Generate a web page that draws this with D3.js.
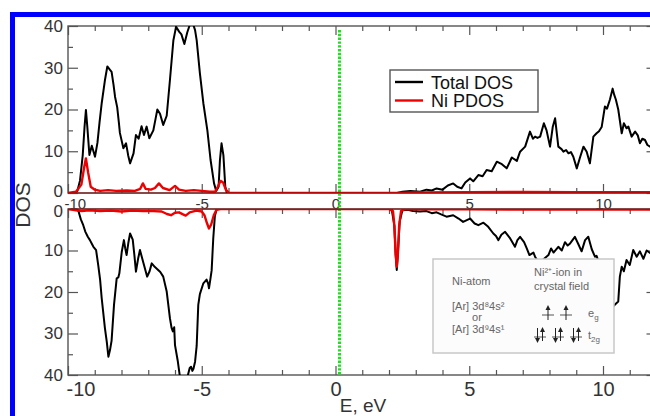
<!DOCTYPE html>
<html><head><meta charset="utf-8">
<script src="https://cdn.jsdelivr.net/npm/d3@7"></script>
<style>body{margin:0;background:#fff}svg{display:block}text{font-family:"Liberation Sans",Arial,sans-serif}</style>
</head><body>
<svg id="c" width="650" height="416"></svg>
<script>
// ---------------- data ----------------
const xTicksMajor = [-10, -5, 0, 5, 10];
const yTicksMajor = [0, 10, 20, 30, 40];
const fermiE = 0.15;

const upTotal = [[-10,0],[-9.75,0],[-9.65,0.5],[-9.55,3],[-9.45,9],[-9.38,16],[-9.33,19.9],[-9.28,16],[-9.2,9.1],[-9.11,11.3],[-8.99,8.7],[-8.9,12],[-8.82,17],[-8.74,21.5],[-8.62,27],[-8.53,30.3],[-8.43,29.5],[-8.37,29],[-8.3,26],[-8.24,23],[-8.16,20.5],[-8.1,17],[-8.06,14.4],[-7.93,10.7],[-7.83,11.9],[-7.75,9],[-7.68,7.1],[-7.55,9.5],[-7.46,13.9],[-7.36,13],[-7.25,16],[-7.16,13.9],[-7.06,15.9],[-6.96,13.1],[-6.81,15],[-6.72,18],[-6.66,20],[-6.56,19],[-6.44,16.3],[-6.31,18.5],[-6.19,27],[-6.06,36.6],[-5.96,39.8],[-5.84,38.6],[-5.76,38],[-5.65,35.7],[-5.54,38.5],[-5.41,41],[-5.31,40.2],[-5.25,39],[-5.19,36.6],[-5.07,28.7],[-4.94,21.5],[-4.79,15],[-4.67,7.9],[-4.54,2.3],[-4.46,0.5],[-4.37,1.5],[-4.32,7.9],[-4.26,11.9],[-4.19,9],[-4.12,1.5],[-4.06,0],[2.3,0],[2.5,0.3],[2.8,0.5],[3.16,0.3],[3.4,0.8],[3.6,0.6],[3.78,1.1],[4.0,0.8],[4.2,1.8],[4.4,2.3],[4.55,1.5],[4.71,1.1],[4.85,2.5],[5.03,3.5],[5.15,2.8],[5.34,4.3],[5.5,4.0],[5.65,5.5],[5.84,5.2],[6.03,7.5],[6.22,6.9],[6.40,5.9],[6.59,8.5],[6.78,7.7],[6.90,9.9],[7.09,11.1],[7.27,14.7],[7.38,13],[7.46,13.5],[7.55,13.2],[7.65,13.5],[7.79,16.7],[7.89,15],[8.02,11.1],[8.12,15.8],[8.21,17.9],[8.33,11.1],[8.45,10.5],[8.52,9.9],[8.62,10.3],[8.71,9.5],[8.8,9.8],[8.89,8.7],[9.02,5.9],[9.14,8.5],[9.27,11.1],[9.39,9.9],[9.51,7.1],[9.64,13.5],[9.76,14.3],[9.85,14.8],[9.95,15.8],[10.07,20.7],[10.15,20.2],[10.26,22.4],[10.36,25],[10.42,23.5],[10.48,22.4],[10.57,20],[10.70,14.3],[10.78,16.7],[10.88,15.5],[10.95,15.9],[11.07,13.5],[11.2,14.7],[11.3,13.8],[11.38,11.9],[11.47,13],[11.57,12.7],[11.66,11.5],[11.76,11.1],[11.9,12],[12,11.5]];

const upNi = [[-10,0],[-9.7,0.3],[-9.5,2],[-9.4,6],[-9.33,8.3],[-9.25,5],[-9.15,1.5],[-9.0,0.8],[-8.8,0.5],[-8.5,0.7],[-8.2,0.5],[-7.8,0.6],[-7.5,0.5],[-7.3,1],[-7.2,2.3],[-7.1,1],[-6.9,0.8],[-6.75,1.2],[-6.6,2.3],[-6.45,1.2],[-6.2,0.7],[-6.0,1.7],[-5.85,0.8],[-5.6,0.5],[-5.3,0.7],[-5.0,0.5],[-4.7,0.3],[-4.5,0.3],[-4.4,1.5],[-4.3,2.9],[-4.2,2.5],[-4.1,0.8],[-4.0,0.1],[-3.8,0],[2.3,0],[3,0.15],[5,0.2],[7,0.25],[9,0.2],[12,0.2]];

const dnTotal = [[-10,0],[-9.7,0],[-9.61,0.5],[-9.52,2.5],[-9.43,3.9],[-9.35,5.5],[-9.26,6.7],[-9.18,7.5],[-9.1,8.5],[-9.05,9.1],[-8.95,9.9],[-8.87,13.5],[-8.8,17],[-8.74,21.5],[-8.62,28.7],[-8.55,32],[-8.49,35.6],[-8.43,34],[-8.37,31.7],[-8.28,23.1],[-8.18,16.7],[-8.12,16.5],[-8.08,15.5],[-7.99,10.3],[-7.91,7.5],[-7.86,9.5],[-7.81,11.1],[-7.74,8],[-7.68,5.9],[-7.58,7.4],[-7.52,11],[-7.46,15.1],[-7.38,12],[-7.31,9.9],[-7.18,13],[-7.04,16.3],[-6.95,15],[-6.87,13.1],[-6.75,14],[-6.66,14.5],[-6.55,15.2],[-6.44,16.3],[-6.31,19.9],[-6.19,26.3],[-6.13,28.6],[-6.08,29.5],[-6.03,28.5],[-6.0,32.8],[-5.9,36.5],[-5.81,40.7],[-5.7,43],[-5.6,42],[-5.5,39.6],[-5.45,38.3],[-5.4,38],[-5.35,39],[-5.31,38.5],[-5.25,36.8],[-5.19,33],[-5.13,23.1],[-5.07,20.5],[-4.94,17.9],[-4.82,17],[-4.76,18],[-4.73,19.1],[-4.68,17],[-4.63,14.8],[-4.57,7.1],[-4.51,1.7],[-4.44,0],[2.1,0],[2.2,4],[2.25,11],[2.29,14.7],[2.33,11],[2.4,3],[2.5,0.3],[2.7,0.2],[2.9,0.5],[3.16,0.6],[3.4,0.5],[3.6,1.0],[3.78,0.8],[3.95,1.3],[4.15,1.85],[4.4,1.5],[4.6,2.3],[4.77,3.1],[5.03,2.3],[5.2,3.5],[5.34,3.9],[5.53,3.3],[5.71,4.3],[5.90,5.9],[6.0,6.5],[6.09,7.5],[6.2,6.2],[6.34,5.5],[6.53,7.1],[6.71,9.1],[6.8,7.5],[6.90,6.7],[7.05,8],[7.15,9.5],[7.25,11.1],[7.4,10.5],[7.46,11.5],[7.6,13],[7.8,12],[7.96,11.1],[8.06,9.5],[8.15,10.5],[8.33,9.1],[8.46,10],[8.58,8],[8.68,8.8],[8.77,8.3],[8.95,6.7],[9.08,8.5],[9.2,10.2],[9.33,7.5],[9.45,6.7],[9.58,9.7],[9.7,11.5],[9.76,11.3],[9.9,14],[10.1,19],[10.3,24],[10.45,23],[10.57,22.3],[10.63,16.3],[10.70,13.9],[10.78,15],[10.88,12.3],[11.0,13.5],[11.13,9.9],[11.26,11.5],[11.38,10.2],[11.51,12],[11.63,10],[11.76,10.6],[12,11]];

const dnNi = [[-10,0],[-9.7,0.3],[-9.5,0.5],[-9.2,0.3],[-8.8,0.5],[-8.4,0.4],[-8,0.6],[-7.6,0.4],[-7.2,0.5],[-6.8,0.5],[-6.5,0.6],[-6.3,1.2],[-6.15,1.5],[-6.0,0.9],[-5.85,0.8],[-5.7,1.3],[-5.6,1.6],[-5.45,0.8],[-5.2,0.4],[-5.0,0.6],[-4.9,1.5],[-4.8,3.5],[-4.73,4.7],[-4.65,3.8],[-4.55,1.5],[-4.45,0.2],[-4.3,0],[2.0,0],[2.15,0.5],[2.2,4],[2.25,11],[2.29,13.9],[2.33,11],[2.38,4],[2.45,0.5],[2.6,0],[5,0.1],[8,0.15],[12,0.1]];

const legendLabels = ["Total DOS", "Ni PDOS"];
const seriesColors = ["#000000", "#ee0000"];

// ---------------- layout ----------------
const svg = d3.select("#c");
const X0 = 68, X1 = 656.5;
const x = d3.scaleLinear().domain([-10, 12]).range([X0, X1]);
const yUp = d3.scaleLinear().domain([0, 40]).range([193, 26]);
const yDn = d3.scaleLinear().domain([0, 40]).range([209, 375]);
const axisColor = "#555";

svg.append("rect").attr("x", 12.5).attr("y", 14.5).attr("width", 700).attr("height", 500)
  .attr("fill", "none").attr("stroke", "#0000ff").attr("stroke-width", 5);

const defs = svg.append("defs");
defs.append("clipPath").attr("id", "cu").append("rect")
  .attr("x", X0).attr("y", yUp(40)).attr("width", X1 - X0).attr("height", yUp(0) - yUp(40));
defs.append("clipPath").attr("id", "cd").append("rect")
  .attr("x", X0).attr("y", yDn(0)).attr("width", X1 - X0).attr("height", yDn(40) - yDn(0));

const minorX = d3.range(-10, 13, 1).filter(d => d % 5 !== 0);
const minorY = [5, 15, 25, 35];

function styleAxis(g) {
  g.select(".domain").remove();
  g.selectAll("line").attr("stroke", axisColor).attr("stroke-width", 1.2);
  g.selectAll("text").attr("fill", "#333");
}

function panel(yS, bottom) {
  svg.append("g").attr("transform", `translate(${X0},0)`)
    .call(d3.axisLeft(yS).tickValues(yTicksMajor).tickSize(-10).tickPadding(5).tickFormat(d => String(d)))
    .call(styleAxis).call(g => g.selectAll("text").attr("font-size", 17))
    .call(g => g.selectAll(".tick").filter(d => d === 0).select("text").attr("y", bottom.zeroDy));
  svg.append("g").attr("transform", `translate(${X0},0)`)
    .call(d3.axisLeft(yS).tickValues(minorY).tickSize(-5).tickFormat(""))
    .call(styleAxis);
  svg.append("g").attr("transform", `translate(${X1},0)`)
    .call(d3.axisRight(yS).tickValues(yTicksMajor).tickSize(-10).tickFormat(""))
    .call(styleAxis);
  svg.append("g").attr("transform", `translate(${X1},0)`)
    .call(d3.axisRight(yS).tickValues(minorY).tickSize(-5).tickFormat(""))
    .call(styleAxis);
  const yt = Math.min(yS(0), yS(40)), yb = Math.max(yS(0), yS(40));
  svg.append("g").attr("transform", `translate(0,${yt})`)
    .call(d3.axisTop(x).tickValues(xTicksMajor).tickSize(-9).tickFormat(""))
    .call(styleAxis);
  svg.append("g").attr("transform", `translate(0,${yt})`)
    .call(d3.axisTop(x).tickValues(minorX).tickSize(-5).tickFormat(""))
    .call(styleAxis);
  svg.append("g").attr("transform", `translate(0,${yb})`)
    .call(d3.axisBottom(x).tickValues(xTicksMajor).tickSize(-9).tickPadding(bottom.pad).tickFormat(d => String(d)))
    .call(styleAxis)
    .call(g => g.selectAll("text").attr("font-size", bottom.fs))
    .call(g => g.selectAll(".tick").filter(d => d === -10).select("text")
      .attr("text-anchor", "start").attr("x", bottom.firstDx));
  svg.append("g").attr("transform", `translate(0,${yb})`)
    .call(d3.axisBottom(x).tickValues(minorX).tickSize(-5).tickFormat(""))
    .call(styleAxis);
  svg.append("rect").attr("x", X0).attr("y", yt).attr("width", X1 - X0).attr("height", yb - yt)
    .attr("fill", "none").attr("stroke", axisColor).attr("stroke-width", 1.4);
}

panel(yUp, {pad: 5, fs: 15, firstDx: -4, zeroDy: -1.8});
panel(yDn, {pad: 7, fs: 20, firstDx: -2, zeroDy: 1.8});

svg.append("line").attr("x1", x(fermiE)).attr("x2", x(fermiE)).attr("y1", 30).attr("y2", yDn(40))
  .attr("stroke", "#22dd22").attr("stroke-width", 3).attr("stroke-dasharray", "2.4 1.4");

const lineUp = d3.line().x(d => x(d[0])).y(d => yUp(d[1]));
const lineDn = d3.line().x(d => x(d[0])).y(d => yDn(d[1]));
const gu = svg.append("g").attr("clip-path", "url(#cu)");
const gd = svg.append("g").attr("clip-path", "url(#cd)");
gu.append("path").datum(upTotal).attr("d", lineUp).attr("fill", "none").attr("stroke", seriesColors[0]).attr("stroke-width", 2).attr("stroke-linejoin", "round");
gd.append("path").datum(dnTotal).attr("d", lineDn).attr("fill", "none").attr("stroke", seriesColors[0]).attr("stroke-width", 2).attr("stroke-linejoin", "round");
gu.append("path").datum(upNi).attr("d", lineUp).attr("fill", "none").attr("stroke", seriesColors[1]).attr("stroke-width", 2.4).attr("stroke-linejoin", "round");
gd.append("path").datum(dnNi).attr("d", lineDn).attr("fill", "none").attr("stroke", seriesColors[1]).attr("stroke-width", 2.4).attr("stroke-linejoin", "round");
[yUp(0), yDn(0)].forEach(yy => svg.append("line").attr("x1", X0).attr("x2", X1).attr("y1", yy).attr("y2", yy)
  .attr("stroke", "#8a1010").attr("stroke-width", 1.4).attr("opacity", 0.7));

svg.append("text").attr("transform", "translate(30,205) rotate(-90)").attr("text-anchor", "middle")
  .attr("font-size", 21).attr("fill", "#333").text("DOS");
svg.append("text").attr("x", 363).attr("y", 412).attr("text-anchor", "middle")
  .attr("font-size", 19).attr("fill", "#333").text("E, eV");

const lg = svg.append("g");
lg.append("rect").attr("x", 390).attr("y", 70).attr("width", 148).attr("height", 42)
  .attr("fill", "#fff").attr("stroke", axisColor).attr("stroke-width", 1.4);
legendLabels.forEach((t, i) => {
  const yy = 82 + i * 18.5;
  lg.append("line").attr("x1", 395).attr("x2", 423).attr("y1", yy).attr("y2", yy)
    .attr("stroke", seriesColors[i]).attr("stroke-width", 2.4);
  lg.append("text").attr("x", 431).attr("y", yy + 6.5).attr("font-size", 18).attr("fill", "#111").text(t);
});

const ins = svg.append("g");
ins.append("rect").attr("x", 433).attr("y", 259).attr("width", 181).attr("height", 94)
  .attr("fill", "#fcfcfc").attr("stroke", "#c8c8c8").attr("stroke-width", 1.5);
const tc = "#666";
const insetText = [
  ["Ni-atom", 452, 285, "start"],
  ["Ni²⁺-ion in", 534, 276, "start"],
  ["crystal field", 534, 290, "start"],
  ["[Ar] 3d⁸4s²", 452, 310, "start"],
  ["or", 477, 321, "middle"],
  ["[Ar] 3d⁹4s¹", 452, 333, "start"]
];
insetText.forEach(([t, xx, yy, a]) => ins.append("text").attr("x", xx).attr("y", yy)
  .attr("text-anchor", a).attr("font-size", 11).attr("fill", tc).text(t));
const eg = ins.append("text").attr("x", 588).attr("y", 317).attr("font-size", 11).attr("fill", tc);
eg.append("tspan").text("e");
eg.append("tspan").attr("dy", 3).attr("font-size", 8).text("g");
const t2 = ins.append("text").attr("x", 588).attr("y", 339).attr("font-size", 11).attr("fill", tc);
t2.append("tspan").text("t");
t2.append("tspan").attr("dy", 3).attr("font-size", 8).text("2g");

function arrow(xx, yTail, yHead) {
  const dir = yHead < yTail ? -1 : 1;
  ins.append("line").attr("x1", xx).attr("x2", xx).attr("y1", yTail).attr("y2", yHead - dir * 3)
    .attr("stroke", "#222").attr("stroke-width", 1);
  ins.append("path").attr("d", `M${xx},${yHead} L${xx - 2.5},${yHead - dir * 5} L${xx + 2.5},${yHead - dir * 5} Z`)
    .attr("fill", "#222");
}
[548, 566].forEach(xx => {
  ins.append("line").attr("x1", xx - 6).attr("x2", xx + 6).attr("y1", 315).attr("y2", 315).attr("stroke", "#555");
  arrow(xx, 320, 305);
});
[540, 558, 576].forEach(xx => {
  ins.append("line").attr("x1", xx - 6).attr("x2", xx + 6).attr("y1", 337).attr("y2", 337).attr("stroke", "#555");
  arrow(xx - 2.5, 328, 343);
  arrow(xx + 2.5, 341, 327);
});
</script>
</body></html>
